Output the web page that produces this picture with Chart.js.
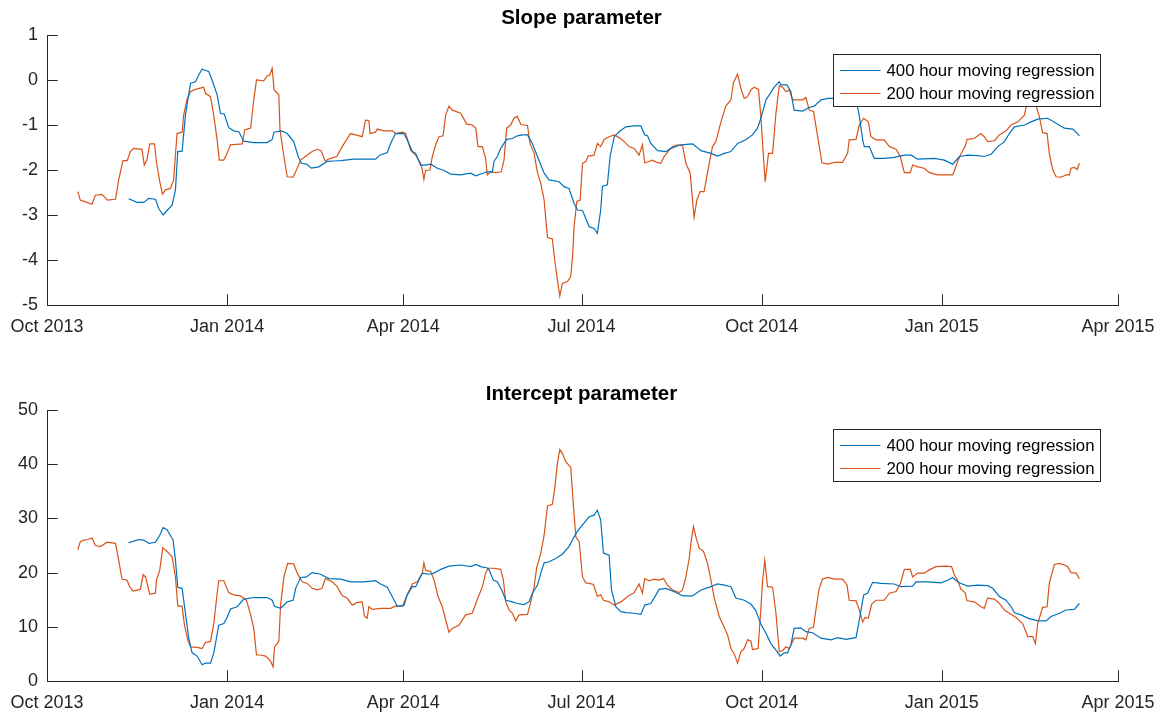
<!DOCTYPE html>
<html>
<head>
<meta charset="utf-8">
<script src="https://cdn.jsdelivr.net/npm/chart.js@4.4.1/dist/chart.umd.min.js"></script>
<style>
  html, body { margin: 0; padding: 0; background: #ffffff; }
  .box { position: relative; width: 1163px; }
</style>
</head>
<body>
<div class="box" style="height:358px"><canvas id="slopeChart"></canvas></div>
<div class="box" style="height:357px"><canvas id="interceptChart"></canvas></div>
<script>
// ---- Tick positions (days since 1 Oct 2013) and labels ----
const tickDays = [0, 92, 182, 273, 365, 457, 547];
const tickLabels = ['Oct 2013', 'Jan 2014', 'Apr 2014', 'Jul 2014', 'Oct 2014', 'Jan 2015', 'Apr 2015'];
const seriesNames = ['400 hour moving regression', '200 hour moving regression'];

// ---- Slope parameter, 400 hour moving regression ----
const slope400Days = [41.7,46,49.4,52,55.4,57,59.3,61.3,63.9,65.6,66.8,69,70.7,73.3,75.8,77.5,79.2,82.6,84.3,86.9,88.6,90.6,92.8,95.4,98,100.5,105.6,112.4,115,116,119.8,122.7,126,128.3,130,132.5,135,138.8,143,146.5,150,156.7,161.8,167.8,170,173.8,175.5,178,182.3,184,186.6,188.3,190.8,193.4,196,199.4,202.8,206.2,211.3,216.4,219,221.5,224.9,227.5,228.3,230,231.7,234.8,237.7,240.2,242.8,245.4,247.9,250.5,253.9,256.4,261.5,264.1,266.6,269.2,270.9,273.5,276.9,279.4,281.1,282.8,283.7,286.2,287.6,289.7,292.2,295.6,299.9,303.3,305.3,306.7,308.4,311.8,316.1,318.6,323.7,329.7,334,339.1,342.5,345.9,349.3,352.7,356.9,360.3,362.9,364.6,367.2,368.9,371.4,374,374.8,377.9,379.9,381.6,385.9,389.3,391.9,395.3,398.7,402.9,406.3,413.2,414.9,416.6,417.4,420,422.5,427.6,432.7,437.9,441.3,444.7,453.2,458.3,462.6,466,470.2,475.3,478.7,482.2,485.6,489,491.5,494.1,499.2,502.6,506,511.1,515.4,519.6,523.9,525.6,527.3];
const slope400 = [-2.64,-2.72,-2.72,-2.63,-2.65,-2.85,-3.0,-2.9,-2.78,-2.44,-1.59,-1.58,-0.78,-0.07,-0.04,0.11,0.24,0.19,0.0,-0.33,-0.74,-0.76,-1.06,-1.13,-1.15,-1.36,-1.39,-1.39,-1.32,-1.16,-1.13,-1.19,-1.37,-1.7,-1.85,-1.87,-1.96,-1.93,-1.81,-1.8,-1.79,-1.76,-1.76,-1.76,-1.67,-1.61,-1.41,-1.19,-1.19,-1.33,-1.59,-1.63,-1.89,-1.89,-1.87,-1.96,-2.01,-2.09,-2.11,-2.07,-2.13,-2.09,-2.04,-2.04,-1.81,-1.7,-1.52,-1.32,-1.3,-1.24,-1.22,-1.22,-1.41,-1.7,-2.07,-2.22,-2.26,-2.37,-2.41,-2.74,-2.89,-2.9,-3.26,-3.3,-3.41,-2.89,-2.36,-2.33,-1.7,-1.26,-1.15,-1.04,-1.02,-1.02,-1.22,-1.24,-1.41,-1.57,-1.59,-1.52,-1.44,-1.42,-1.57,-1.63,-1.69,-1.63,-1.59,-1.41,-1.33,-1.22,-1.07,-0.85,-0.44,-0.33,-0.16,-0.04,-0.11,-0.11,-0.26,-0.67,-0.69,-0.61,-0.58,-0.44,-0.41,-0.41,-0.44,-0.44,-0.81,-1.33,-1.48,-1.48,-1.74,-1.74,-1.72,-1.67,-1.67,-1.76,-1.74,-1.78,-1.87,-1.7,-1.67,-1.68,-1.7,-1.65,-1.48,-1.37,-1.19,-1.04,-1.0,-0.93,-0.87,-0.85,-0.96,-1.07,-1.09,-1.16,-1.24];

// ---- Slope parameter, 200 hour moving regression ----
const slope200Days = [15.7,17,20.4,23,24.7,28,31,35,36.6,38.8,41,42.6,44.3,48.5,49.7,51,52.5,54.9,56,57.6,59,60.5,63,64.7,66.4,69,69.8,71.5,73.3,75,80,81,83.5,85,86.9,88,90.3,92,93.7,99.7,101,104,105.6,107,110.7,112.4,113.8,115,116,118.4,119,121,122.7,125.7,127.8,129.5,132,135.4,138,140,142,144.8,148,150.8,155,157.6,161,162.7,164.4,165,167.8,168.7,172,176.4,178,181.5,183.2,185.7,188.3,190.8,191.7,192.5,193.4,195.6,196.8,198.5,200.2,202.3,203.6,205.3,207,211.3,214.4,217.2,219,220.1,222.4,224,224.9,226.6,229.2,232,233.4,234.8,236.8,238.5,240.2,242,245.4,246.7,248.8,250.5,252.2,253.9,255.6,258.1,259.3,260.7,261.9,263.2,265.8,267.5,268.4,269.2,270.6,272.3,273.5,275.2,276.4,279.4,281.1,282.8,284.5,287.1,289.7,292.2,294.8,297.3,299.9,302.4,304.1,305.3,307.5,309.2,311.5,313.5,315.2,317.8,319.5,322,324.6,326.3,328.5,329.7,330.5,331.9,333.6,335.6,337.3,339.9,341.6,344.2,346.7,349.3,350.6,352.7,354.4,356.1,357.8,359.5,361.2,363.4,364.6,365.8,366.8,368.5,370.6,372.3,374,375.7,377.4,379.1,380.8,385.9,387.6,389.3,391.5,393.6,395.8,398.7,402.1,406.3,408.9,409.7,413.2,414.9,417.1,419.5,420.8,423.4,427.6,430.2,433.6,435.8,437.9,440.9,442.1,444.7,448.1,450.6,454.9,462.6,465.1,466.8,468.9,469.9,473.6,477,478.7,480.4,483.9,486.4,489.8,492.4,495.8,499.2,500.9,502.6,504,505.1,506.8,508.5,510.8,511.9,513.7,515.4,517.9,520.5,522.2,523,524.7,526.1,527.3];
const slope200 = [-2.48,-2.67,-2.72,-2.76,-2.56,-2.54,-2.67,-2.65,-2.22,-1.79,-1.79,-1.59,-1.52,-1.54,-1.89,-1.78,-1.42,-1.42,-1.85,-2.26,-2.54,-2.44,-2.41,-2.22,-1.19,-1.16,-0.78,-0.44,-0.26,-0.22,-0.16,-0.3,-0.37,-0.74,-1.33,-1.78,-1.78,-1.63,-1.44,-1.42,-1.11,-1.07,-0.44,0.0,-0.02,0.09,0.11,0.26,-0.22,-0.33,-1.11,-1.7,-2.15,-2.16,-1.96,-1.78,-1.7,-1.59,-1.54,-1.57,-1.8,-1.74,-1.7,-1.48,-1.19,-1.22,-1.26,-0.89,-0.9,-1.19,-1.16,-1.09,-1.13,-1.13,-1.19,-1.16,-1.19,-1.56,-1.67,-1.85,-2.0,-2.21,-2.01,-2.0,-1.7,-1.44,-1.26,-1.24,-0.78,-0.58,-0.67,-0.74,-0.98,-1.0,-1.07,-1.48,-1.48,-1.74,-2.11,-2.04,-2.06,-2.04,-1.78,-1.07,-1.0,-0.85,-0.81,-0.99,-1.01,-1.41,-1.63,-2.06,-2.3,-2.67,-3.5,-3.53,-4.0,-4.44,-4.8,-4.52,-4.48,-4.37,-3.93,-3.26,-2.7,-2.67,-1.85,-1.81,-1.69,-1.67,-1.41,-1.48,-1.32,-1.26,-1.22,-1.28,-1.37,-1.48,-1.52,-1.67,-1.44,-1.84,-1.81,-1.78,-1.83,-1.85,-1.7,-1.56,-1.48,-1.44,-1.46,-1.85,-2.07,-2.67,-3.05,-2.67,-2.48,-2.48,-2.07,-1.48,-1.37,-0.93,-0.58,-0.44,-0.06,0.13,-0.19,-0.41,-0.37,-0.22,-0.16,-0.21,-0.81,-1.63,-2.26,-1.63,-1.63,-0.74,-0.13,-0.16,-0.26,-0.22,-0.44,-0.44,-0.39,-0.67,-0.7,-1.26,-1.84,-1.87,-1.83,-1.83,-1.63,-1.33,-1.32,-1.0,-0.85,-0.93,-1.26,-1.33,-1.33,-1.48,-1.54,-1.7,-2.06,-2.06,-1.89,-1.93,-1.96,-2.06,-2.11,-2.11,-1.81,-1.64,-1.48,-1.32,-1.3,-1.19,-1.26,-1.37,-1.35,-1.22,-1.13,-1.0,-0.93,-0.78,-0.44,-0.2,-0.35,-0.56,-0.81,-1.17,-1.19,-1.63,-2.0,-2.15,-2.16,-2.11,-2.11,-1.96,-1.94,-1.99,-1.85];

// ---- Intercept parameter, 400 hour moving regression ----
const intercept400Days = [41.7,44.3,46.8,49.4,52,55.4,57.6,59.3,61.3,63,64.4,65.6,66.8,69,70.7,72.4,74.1,76.7,79.2,80.9,83.5,85.2,87.7,90.3,92,93.7,97.1,100.5,105.6,112.4,115,116.2,119.3,122.7,125.7,127,129.5,132.5,135.4,139.7,144,150,155,161.8,167.8,170.4,173.8,176.3,178.9,182.3,184,186.6,188.3,191.7,195.1,197.7,201.1,205.3,211.3,216.4,219,221.5,224.6,225.8,228,230,232.6,234.3,237.7,240.2,243.6,246.2,247.9,250.5,252.2,253.9,256.4,259.8,263.2,266.6,269.2,270.9,273.5,276.9,279.4,281.1,282.8,284.2,287.1,288.3,290.5,293.1,295.6,299.9,303.3,305.3,308.4,311,312.6,316.1,320.3,324.6,329.7,334,339.1,342.5,345.9,349.3,351.8,356.1,359.5,362,364.6,367.2,369.7,372.3,374.5,376.5,378.2,379.9,381.6,385,387.6,391,395.3,400.4,403.8,408,413.2,414.9,417.1,419.1,421.7,425.9,432.7,436.2,442.1,443.8,449.8,456.6,460,462.6,465.1,466.8,470.2,475.3,480.4,483,486.4,489.8,492.4,494.1,497.5,500.9,506,510.3,512.8,517.1,520.5,524.7,527.3];
const intercept400 = [25.5,25.8,26.1,26.0,25.4,25.6,26.9,28.3,27.9,26.9,26.0,22.3,17.3,17.1,12.5,7.9,5.2,4.6,3.0,3.3,3.3,5.2,10.3,10.6,11.7,13.3,13.7,15.1,15.4,15.4,14.9,13.8,13.4,14.6,14.9,17.1,19.1,19.2,20.0,19.7,18.9,18.8,18.3,18.3,18.5,17.9,17.3,15.6,13.8,13.9,15.9,17.4,17.4,19.9,19.7,19.9,20.6,21.2,21.4,21.1,21.5,21.1,20.9,20.5,18.6,18.3,16.5,14.9,14.6,14.3,14.1,14.6,16.2,17.7,19.9,21.8,22.0,22.6,23.4,24.8,26.6,27.6,28.8,30.3,30.6,31.5,29.7,23.6,23.2,16.8,13.7,12.8,12.6,12.5,12.3,14.0,14.3,15.9,16.9,17.1,16.5,15.7,15.7,16.8,17.4,17.9,17.7,17.4,15.3,14.9,14.2,13.0,10.5,8.8,6.9,5.7,4.6,5.2,5.2,6.6,9.7,9.8,9.1,8.9,7.9,7.6,8.0,7.7,8.0,11.3,15.9,16.2,18.2,18.0,17.9,17.4,17.5,18.3,18.3,18.1,18.6,19.1,18.3,18.0,17.5,17.7,17.6,17.1,15.6,14.9,13.7,12.6,12.2,11.6,11.1,11.1,11.9,12.5,13.1,13.2,14.3];

// ---- Intercept parameter, 200 hour moving regression ----
const intercept200Days = [15.7,17,18.7,20.8,23,24.7,27.3,30.7,35,36.6,38.3,40.9,42.2,44,47.7,49.1,50.3,52.5,55.4,55.9,57.6,59.1,61.3,63.9,65.6,66.8,69,70.2,71.9,73.3,76.7,79.2,80.9,83.5,85.2,86.9,87.7,90.3,92.8,95.4,98.8,101.9,104,105.6,107,109,111.6,114.1,115.5,116.2,118.4,119.3,121,122.9,126,127.8,130.3,132.9,135.4,138,140.5,142.2,145.7,148.2,150.8,153.3,155.9,158.4,161,162.2,163.5,164.4,166.1,170.4,175.5,178,181.5,184,186.6,189.1,191.7,192.5,193.4,196,197.7,199.7,201.9,203.6,205.3,207,210.4,213.8,217.2,219,220.7,222.4,224,225.3,228.3,231.7,233.1,234.3,236,237.7,239.4,241.1,245.4,247.1,248.8,250.1,252.2,253.9,255.6,258.1,259.3,260.7,261.9,263.2,264.9,267.5,268.9,270.1,271.8,273.5,275.2,276.9,279.1,281.1,282.8,284.2,287.1,289.7,293.1,296.5,299.9,302.4,304.1,305.3,307.5,310,312.6,314.9,316.9,319.5,322.9,324.6,326.3,328,329.2,330.2,331.4,333.1,335.3,337.3,339.1,340.8,343.3,345,347.6,349.3,351,352.7,354.4,356.1,357.8,359.5,360.3,363.2,364.6,365.5,366.6,368,370.6,372.3,374,375.7,377.4,379.1,381.6,385.9,387.6,389.3,391.5,392.7,394.4,396.1,398.7,402.1,406.3,408.6,409.7,413.2,414.9,416.6,417.8,419.5,421.2,423.4,427.6,430.2,433.6,435.8,437.9,440.9,442.1,444.7,448.1,450.6,454,459.1,462,463.4,465.1,466.8,468.9,469.9,473.6,477,478.7,480.4,483.9,486.4,489,491.5,494.9,498.3,500.9,503.4,504.8,506,508.5,510.8,511.9,514.5,517.1,519.6,521.3,523,525.6,527.3];
const intercept200 = [24.2,25.7,26.0,26.1,26.4,25.0,24.8,25.6,25.4,22.3,18.8,18.6,17.4,16.6,16.9,19.6,19.2,16.0,16.2,18.6,20.5,24.6,23.9,22.9,19.2,13.8,13.8,10.3,7.6,6.3,6.2,6.0,7.1,7.3,10.6,16.2,18.5,18.5,16.3,15.9,15.7,14.9,12.2,9.7,4.8,4.8,4.6,3.7,2.6,6.3,7.3,14.0,19.2,21.7,21.6,19.9,18.3,18.0,17.1,16.8,17.1,18.9,18.3,17.4,15.7,15.3,14.0,14.5,14.6,11.9,11.6,13.7,13.2,13.4,13.4,13.8,13.8,15.9,17.9,18.3,19.9,21.8,20.4,20.2,18.6,15.6,13.7,11.3,9.0,9.7,10.3,12.2,12.5,14.3,15.9,17.4,19.9,20.8,20.8,20.6,18.6,14.6,13.1,12.5,11.1,12.2,12.3,14.6,17.4,20.9,23.6,26.9,32.3,32.6,35.5,40.2,42.7,42.0,40.5,39.4,32.2,26.6,25.7,19.2,18.1,18.0,17.8,15.6,15.9,14.9,14.6,14.0,14.6,15.6,16.3,17.9,16.2,18.9,18.5,18.8,18.6,18.9,17.7,16.8,16.3,16.8,19.2,22.6,26.3,28.5,26.6,24.5,23.9,21.8,18.6,15.3,11.9,10.6,8.5,6.0,5.0,3.3,5.4,6.0,7.6,7.4,5.8,6.0,13.4,18.6,22.3,17.4,17.3,12.5,5.4,5.6,6.3,6.0,7.9,7.9,7.6,9.7,9.9,13.1,17.1,18.8,19.1,18.8,18.8,17.7,14.9,14.8,13.1,10.9,11.7,11.6,14.2,14.9,14.9,16.2,16.5,17.9,20.6,20.6,19.2,19.9,19.9,20.5,21.1,21.2,21.1,19.6,18.6,16.9,16.3,14.8,14.6,13.7,13.4,15.3,15.1,14.3,13.1,12.5,11.7,10.6,8.2,8.2,6.9,10.6,13.6,13.7,18.0,21.5,21.7,21.4,21.1,20.0,19.9,18.9];

// ---- Styles ----
const AXIS = '#262626';
const BLUE = '#0072BD';
const ORANGE = '#D95319';
const FONT = '"Liberation Sans", Arial, Helvetica, sans-serif';

function pts(xs, ys) { return xs.map((x, i) => ({ x: x, y: ys[i] })); }

// Inward tick marks (MATLAB style)
const tickMarks = {
  id: 'tickMarks',
  afterDraw(chart) {
    const ctx = chart.ctx, a = chart.chartArea;
    const L = 10.7;
    ctx.save();
    ctx.strokeStyle = AXIS;
    ctx.lineWidth = 1;
    ctx.beginPath();
    chart.scales.x.ticks.forEach(t => {
      const px = Math.round(chart.scales.x.getPixelForValue(t.value)) + 0.5;
      ctx.moveTo(px, a.bottom); ctx.lineTo(px, a.bottom - L);
    });
    chart.scales.y.ticks.forEach(t => {
      const py = Math.round(chart.scales.y.getPixelForValue(t.value)) + 0.5;
      ctx.moveTo(a.left, py); ctx.lineTo(a.left + L, py);
    });
    ctx.stroke();
    ctx.restore();
  }
};

// Legend box inside the axes, drawn over the lines
const boxLegend = {
  id: 'boxLegend',
  afterDatasetsDraw(chart) {
    const ctx = chart.ctx, a = chart.chartArea;
    const w = 267, h = 52;
    const x = Math.round(a.right - 18 - w) + 0.5;
    const y = Math.round(a.top + 18.5) + 0.5;
    ctx.save();
    ctx.fillStyle = '#ffffff';
    ctx.fillRect(x, y, w, h);
    ctx.strokeStyle = AXIS;
    ctx.lineWidth = 1;
    ctx.strokeRect(x, y, w, h);
    ctx.font = '16.8px ' + FONT;
    ctx.textBaseline = 'middle';
    ctx.textAlign = 'left';
    chart.data.datasets.forEach((ds, i) => {
      const cy = y + 16 + i * 23;
      ctx.strokeStyle = ds.borderColor;
      ctx.lineWidth = 1.2;
      ctx.beginPath();
      ctx.moveTo(x + 6.5, cy); ctx.lineTo(x + 47, cy);
      ctx.stroke();
      ctx.fillStyle = '#000000';
      ctx.fillText(ds.label, x + 53, cy + 1);
    });
    ctx.restore();
  }
};

function makeChart(id, title, titlePad, xHeight, d400x, d400y, d200x, d200y, yMin, yMax, yStep) {
  return new Chart(document.getElementById(id), {
    type: 'line',
    data: {
      datasets: [
        { label: seriesNames[0], data: pts(d400x, d400y), borderColor: BLUE, borderWidth: 1.2, pointRadius: 0, tension: 0, fill: false },
        { label: seriesNames[1], data: pts(d200x, d200y), borderColor: ORANGE, borderWidth: 1.2, pointRadius: 0, tension: 0, fill: false }
      ]
    },
    options: {
      responsive: true,
      maintainAspectRatio: false,
      animation: false,
      events: [],
      layout: { padding: 0 },
      plugins: {
        legend: { display: false },
        tooltip: { enabled: false },
        title: {
          display: true, text: title, color: '#000000',
          font: { family: FONT, size: 20.5, weight: 'bold', lineHeight: 1.2 },
          padding: titlePad
        }
      },
      scales: {
        x: {
          type: 'linear', min: tickDays[0], max: tickDays[tickDays.length - 1],
          afterBuildTicks(s) { s.ticks = tickDays.map(v => ({ value: v })); },
          afterFit(s) { s.height = xHeight; },
          // tick marks are drawn by the plugin; tickLength only offsets the labels
          grid: { display: false, drawTicks: true, tickLength: 11 },
          border: { display: true, color: AXIS, width: 1 },
          ticks: {
            autoSkip: false, maxRotation: 0, minRotation: 0, padding: 0,
            color: AXIS, font: { family: FONT, size: 18 },
            callback(v) { const i = tickDays.indexOf(v); return i >= 0 ? tickLabels[i] : ''; }
          }
        },
        y: {
          type: 'linear', position: 'left', min: yMin, max: yMax,
          afterFit(s) { s.width = 47; },
          grid: { display: false, drawTicks: false },
          border: { display: true, color: AXIS, width: 1 },
          ticks: { stepSize: yStep, padding: 9, color: AXIS, font: { family: FONT, size: 18 } }
        },
        rightSpace: {
          type: 'linear', position: 'right', min: 0, max: 1,
          afterFit(s) { s.width = 45; },
          grid: { display: false, drawTicks: false },
          border: { display: false },
          ticks: { display: false }
        }
      }
    },
    plugins: [tickMarks, boxLegend]
  });
}

makeChart('slopeChart', 'Slope parameter', { top: 5.7, bottom: 4.7 }, 53,
  slope400Days, slope400, slope200Days, slope200, -5, 1, 1);
makeChart('interceptChart', 'Intercept parameter', { top: 23.7, bottom: 3.7 }, 34,
  intercept400Days, intercept400, intercept200Days, intercept200, 0, 50, 10);
</script>
</body>
</html>
